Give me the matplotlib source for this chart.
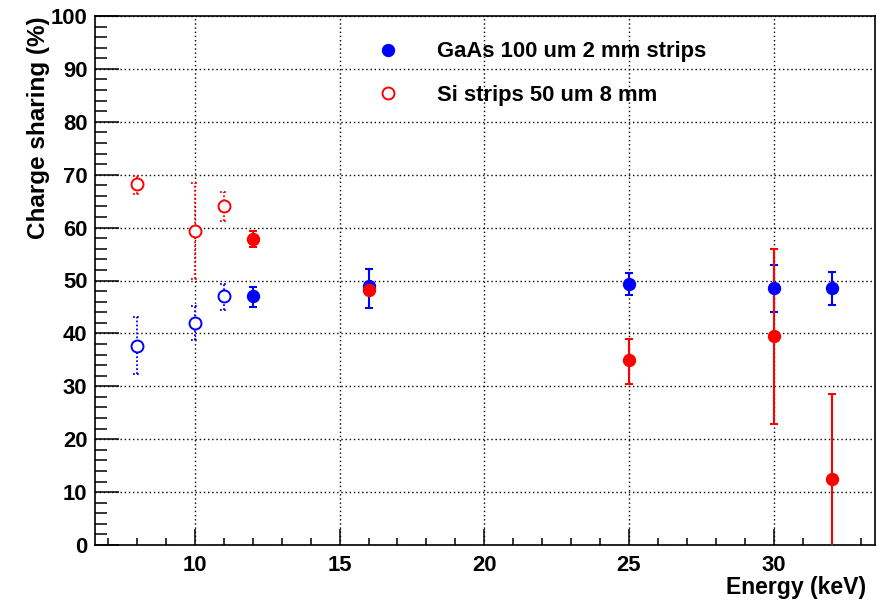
import numpy as np
import matplotlib
matplotlib.use('Agg')
import matplotlib.pyplot as plt
from matplotlib.ticker import MultipleLocator

plt.rcParams['font.family'] = ['Liberation Sans', 'DejaVu Sans']
plt.rcParams['font.weight'] = 'bold'

# GaAs 100 um 2 mm strips (filled = solid error bars, open = dotted)
gaas_x = [12, 16, 25, 30, 32]
gaas_y = [47.0, 48.9, 49.4, 48.6, 48.5]
gaas_lo = [44.9, 44.8, 47.3, 44.1, 45.3]
gaas_hi = [48.8, 52.2, 51.4, 53.0, 51.6]

gaas_open_x = [8, 10, 11]
gaas_open_y = [37.7, 42.0, 47.0]
gaas_open_lo = [32.4, 38.7, 44.5]
gaas_open_hi = [43.1, 45.1, 49.4]

# Si strips 50 um 8 mm
si_x = [12, 16, 25, 30, 32]
si_y = [57.9, 48.2, 34.9, 39.6, 12.4]
si_lo = [56.3, 47.4, 30.5, 22.9, -3.8]
si_hi = [59.4, 49.0, 39.0, 56.0, 28.6]

si_open_x = [8, 10, 11]
si_open_y = [68.3, 59.3, 64.0]
si_open_lo = [66.4, 50.2, 61.3]
si_open_hi = [69.8, 68.4, 66.7]

label_gaas = 'GaAs 100 um 2 mm strips'
label_si = 'Si strips 50 um 8 mm'

fig = plt.figure(figsize=(8.78, 6.03), dpi=100)
ax = fig.add_axes([95 / 878, 1 - 545 / 603, 780 / 878, 529 / 603])

ax.set_xlim(6.55, 33.5)
ax.set_ylim(0, 100)


def yerr(y, lo, hi):
    y = np.array(y)
    return [y - np.array(lo), np.array(hi) - y]


def draw_open(x, y, lo, hi, color):
    eb = ax.errorbar(x, y, yerr=yerr(y, lo, hi), fmt='o', ms=8.6, mfc='white',
                     mec=color, mew=1.4, ecolor=color, elinewidth=1.3,
                     capsize=0, zorder=3)
    eb[2][0].set_linestyle((0, (1, 1.2)))
    ax.hlines(lo, np.array(x) - 0.14, np.array(x) + 0.14, colors=color,
              linewidth=1.3, linestyles=(0, (1, 1.2)), zorder=3)
    ax.hlines(hi, np.array(x) - 0.14, np.array(x) + 0.14, colors=color,
              linewidth=1.3, linestyles=(0, (1, 1.2)), zorder=3)


def draw_filled(x, y, lo, hi, color):
    ax.errorbar(x, y, yerr=yerr(y, lo, hi), fmt='o', ms=8.6, color=color,
                mec=color, ecolor=color, elinewidth=1.5, capsize=2.9,
                capthick=1.5, zorder=4)


draw_open(gaas_open_x, gaas_open_y, gaas_open_lo, gaas_open_hi, 'blue')
draw_filled(gaas_x, gaas_y, gaas_lo, gaas_hi, 'blue')
draw_open(si_open_x, si_open_y, si_open_lo, si_open_hi, 'red')
draw_filled(si_x, si_y, si_lo, si_hi, 'red')

# legend handles
h1, = ax.plot([], [], 'o', ms=8.6, color='blue')
h2, = ax.plot([], [], 'o', ms=8.6, mfc='white', mec='red', mew=1.4)
ax.legend([h1, h2], [label_gaas, label_si], loc='upper left',
          bbox_to_anchor=(0.3255, 0.985), frameon=False, fontsize=15.8,
          handlelength=2.0, handletextpad=1.2, labelspacing=1.02,
          borderpad=0.3)

ax.xaxis.set_major_locator(MultipleLocator(5))
ax.xaxis.set_minor_locator(MultipleLocator(1))
ax.yaxis.set_major_locator(MultipleLocator(10))
ax.yaxis.set_minor_locator(MultipleLocator(2))

ax.tick_params(axis='both', which='both', direction='in', top=False,
               right=False, width=1.1, labelsize=15.8, colors='black')
ax.tick_params(axis='x', which='major', length=11.3, pad=7)
ax.tick_params(axis='x', which='minor', length=5.4)
ax.tick_params(axis='y', which='major', length=17.3, pad=5.5)
ax.tick_params(axis='y', which='minor', length=8.6)
for lab in ax.get_xticklabels() + ax.get_yticklabels():
    lab.set_fontweight('bold')

ax.grid(True, which='major', color='black', linestyle=(0, (1, 2)),
        linewidth=1.0, zorder=0)
ax.set_axisbelow(True)
for sp in ax.spines.values():
    sp.set_linewidth(1.2)

ax.set_xlabel('Energy (keV)', fontsize=16.6, fontweight='bold', ha='right')
ax.xaxis.set_label_coords(0.988, -0.058)
ax.set_ylabel('Charge sharing (%)', fontsize=17.5, fontweight='bold', ha='right')
ax.yaxis.set_label_coords(-0.058, 1.0)

fig.savefig('out.png', dpi=100)
